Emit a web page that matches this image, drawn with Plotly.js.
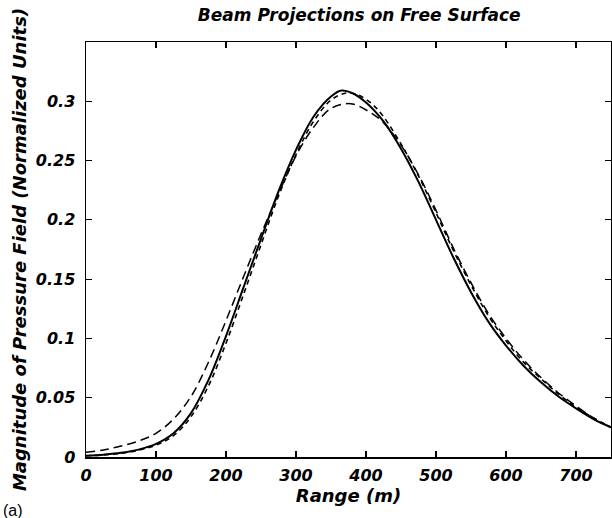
<!DOCTYPE html>
<html>
<head>
<meta charset="utf-8">
<script src="https://cdn.plot.ly/plotly-3.0.1.min.js"></script>
<style>html,body{margin:0;padding:0;background:#fff;}#chart{width:612px;height:518px;}</style>
</head>
<body>
<div id="chart"></div>
<script>
// Range (m)
const rangeSolid = [0,25,50,75,100,125,150,175,200,225,250,275,300,325,350,365,380,400,425,450,475,500,525,550,575,600,625,650,675,700,725,750];
const solidVals  = [0.001,0.002,0.0035,0.0062,0.011,0.020,0.037,0.065,0.102,0.143,0.184,0.224,0.259,0.287,0.304,0.309,0.307,0.299,0.283,0.260,0.232,0.200,0.168,0.139,0.114,0.094,0.077,0.063,0.051,0.041,0.032,0.025];

const rangeShort = [0,25,50,75,100,125,150,175,200,225,250,275,300,325,350,372,390,410,425,450,475,500,525,550,575,600,625,650,675,700,725,750];
const shortDashVals = [0.001,0.0018,0.0032,0.0057,0.010,0.018,0.034,0.060,0.096,0.137,0.179,0.220,0.255,0.283,0.301,0.307,0.305,0.297,0.287,0.264,0.237,0.206,0.174,0.145,0.119,0.098,0.080,0.066,0.053,0.042,0.033,0.025];

const rangeLong = [0,25,50,75,100,125,150,175,200,225,250,275,300,325,350,378,405,425,450,475,500,525,550,575,600,625,650,675,700,725,750];
const longDashVals = [0.004,0.006,0.0092,0.0135,0.020,0.032,0.051,0.080,0.115,0.152,0.188,0.222,0.254,0.278,0.294,0.298,0.291,0.282,0.263,0.238,0.208,0.176,0.147,0.121,0.100,0.082,0.067,0.054,0.043,0.033,0.025];

const xTickVals = [0,100,200,300,400,500,600,700];
const xTickText = ["0","100","200","300","400","500","600","700"];
const yTickVals = [0,0.05,0.1,0.15,0.2,0.25,0.3];
const yTickText = ["0","0.05","0.1","0.15","0.2","0.25","0.3"];

const titleText = "Beam Projections on Free Surface";
const xTitle = "Range (m)";
const yTitle = "Magnitude of Pressure Field (Normalized Units)";
const panelLabel = "(a)";

const FAM = "DejaVu Sans, Liberation Sans, sans-serif";
function bi(size) { return {family: FAM, size: size, color: "#000", weight: "bold", style: "italic"}; }

const traces = [
  {x: rangeLong, y: longDashVals, mode: "lines", line: {color: "#000", width: 1.5, dash: "9px,5px", shape: "spline", smoothing: 1}, hoverinfo: "skip"},
  {x: rangeShort, y: shortDashVals, mode: "lines", line: {color: "#000", width: 1.6, dash: "5px,4px", shape: "spline", smoothing: 1}, hoverinfo: "skip"},
  {x: rangeSolid, y: solidVals, mode: "lines", line: {color: "#000", width: 2, shape: "spline", smoothing: 1}, hoverinfo: "skip"}
];

const axisCommon = {
  showgrid: false, zeroline: false, showline: true, linecolor: "#000", linewidth: 1.5,
  mirror: "ticks", ticks: "inside", ticklen: 6, tickwidth: 1.2, tickcolor: "#000",
  tickfont: bi(16)
};

const layout = {
  width: 612, height: 518,
  margin: {l: 86, r: 1, t: 42, b: 61},
  paper_bgcolor: "#fff", plot_bgcolor: "#fff",
  showlegend: false,
  title: {text: titleText, font: bi(17), x: 0.587, xref: "container", xanchor: "center", y: 0.971, yref: "container", yanchor: "middle"},
  xaxis: Object.assign({}, axisCommon, {
    range: [0, 750], tickvals: xTickVals, ticktext: xTickText, ticklabelstandoff: 3,
    title: {text: xTitle, font: bi(18), standoff: 2}
  }),
  yaxis: Object.assign({}, axisCommon, {
    range: [0, 0.35], tickvals: yTickVals, ticktext: yTickText, ticklabelstandoff: 6,
    title: {text: yTitle, font: bi(18), standoff: 4}
  }),
  annotations: [
    {text: panelLabel, xref: "paper", yref: "paper", x: -0.162, y: -0.130, xanchor: "left", yanchor: "middle", showarrow: false,
     font: {family: "Liberation Sans, Arial, sans-serif", size: 16, color: "#000"}}
  ]
};

Plotly.newPlot("chart", traces, layout, {staticPlot: true, displayModeBar: false});
</script>
</body>
</html>
